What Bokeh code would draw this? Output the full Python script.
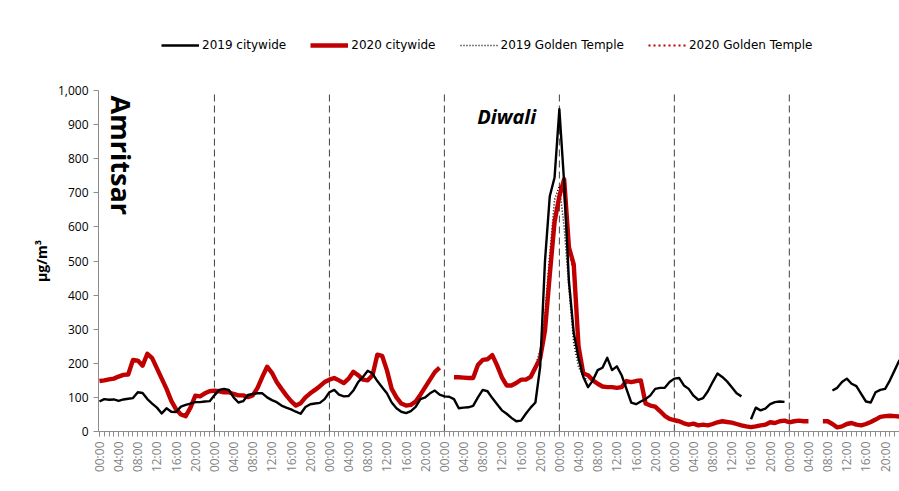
import math
from bokeh.plotting import figure
from bokeh.layouts import column
from bokeh.models import (ColumnDataSource, FixedTicker, NumeralTickFormatter, Legend,
                          LegendItem, Range1d, Label)
from bokeh.embed import file_html
from bokeh.resources import INLINE

NA = float("nan")

# ---------------- data (hourly, 7 days) ----------------
hours = list(range(168))
tick_labels = ["00:00", "04:00", "08:00", "12:00", "16:00", "20:00"]
day_bounds = [24, 48, 72, 96, 120, 144]
series_names = ["2019 citywide", "2020 citywide", "2019 Golden Temple", "2020 Golden Temple"]

citywide_2019 = [
    # day 1
    88, 95, 93, 94, 90, 94, 96, 98, 115, 113, 95, 82, 70, 53, 68, 58, 57, 73, 78, 82, 86, 86, 88, 89,
    # day 2
    106, 122, 125, 122, 100, 85, 89, 107, 110, 112, 112, 100, 92, 86, 76, 70, 65, 58, 52, 72, 80, 82, 84, 95,
    # day 3
    115, 122, 108, 103, 104, 120, 145, 160, 178, 170, 148, 130, 112, 85, 68, 58, 54, 60, 72, 95, 100, 112, 120, 108,
    # day 4
    103, 102, 95, 68, 70, 71, 75, 100, 122, 118, 98, 80, 62, 52, 40, 30, 32, 52, 70, 85, 190, 500, 690, 745,
    # day 5
    945, 730, 440, 290, 215, 160, 130, 150, 180, 187, 216, 180, 191, 165, 125, 85, 80, 88, 95, 106, 125, 128, 128, 145,
    # day 6
    155, 157, 135, 125, 105, 93, 98, 118, 145, 170, 160, 147, 130, 112, 103, NA, 36, 70, 62, 67, 80, 86, 88, 87,
    # day 7
    NA, NA, NA, NA, NA, NA, NA, NA, NA, 120, 128, 145, 155, 140, 133, 110, 88, 85, 115, 122, 125, 150, 180, 210,
]

citywide_2020 = [
    148, 150, 153, 155, 161, 166, 167, 210, 208, 193, 228, 215, 185, 155, 125, 90, 65, 50, 45, 70, 105, 103, 112, 118,
    120, 118, 115, 115, 110, 106, 106, 101, 106, 128, 160, 190, 172, 145, 125, 106, 89, 76, 83, 100, 112, 122, 133, 145,
    152, 157, 150, 142, 155, 175, 165, 152, 150, 165, 225, 222, 180, 125, 100, 82, 76, 78, 88, 108, 130, 152, 174, 187,
    NA, NA, 159, 159, 158, 157, 157, 195, 210, 212, 224, 194, 159, 135, 135, 142, 152, 152, 160, 188, 215, 296, 460, 615,
    690, 740, 540, 490, 250, 170, 165, 150, 140, 132, 130, 130, 128, 130, 148, 145, 148, 150, 82, 76, 73, 60, 46, 37,
    33, 30, 24, 20, 23, 18, 20, 18, 22, 27, 30, 28, 26, 22, 18, 15, 13, 15, 18, 20, 27, 25, 30, 32,
    27, 30, 32, 30, 30, NA, NA, 30, 30, 22, 12, 15, 22, 25, 20, 18, 22, 28, 35, 43, 45, 46, 45, 44,
]

gt_hours = [90, 91, 92, 93, 94, 95, 96, 97, 98, 99, 100, 101, 102]
golden_temple_2019 = [160, 190, 240, 340, 520, 680, 720, 600, 420, 260, 190, 160, 150]
golden_temple_2020 = [160, 188, 212, 290, 450, 600, 680, 730, 530, 470, 250, 168, 165]

FONT = "Open Sans"
LEG_FONT = "DejaVu Sans"
styles = [
    dict(line_color="black", line_width=2.4),
    dict(line_color="#c00000", line_width=4.4),
    dict(line_color="black", line_width=1.6, line_dash="1 2"),
    dict(line_color="#c00000", line_width=2.2, line_dash="2 3"),
]

# ---------------- legend strip ----------------
pl = figure(width=899, height=82, output_backend="svg", toolbar_location=None,
            x_range=Range1d(0, 1), y_range=Range1d(0, 1), min_border=0)
pl.axis.visible = False
pl.grid.visible = False
pl.outline_line_color = None
# legend samples: drawn outside the visible range, only their legend glyphs show
leg_renderers = [pl.line(x=[-5, -4], y=[-5, -5], **st) for st in styles]
legend = Legend(items=[LegendItem(label=n, renderers=[r]) for n, r in zip(series_names, leg_renderers)],
                orientation="horizontal", location=(63, 27))
legend.label_text_font = LEG_FONT
legend.label_text_font_size = "12px"
legend.label_text_color = "black"
legend.glyph_width = 38
legend.label_standoff = 3
legend.spacing = 24
legend.border_line_color = None
legend.background_fill_alpha = 0
legend.padding = 4
legend.margin = 0
pl.add_layout(legend, "center")

# ---------------- main chart ----------------
p = figure(frame_width=801, frame_height=341, output_backend="svg", toolbar_location=None,
           x_range=Range1d(-0.2, 167), y_range=Range1d(0, 1000),
           min_border_left=98, min_border_right=0, min_border_top=8, min_border_bottom=60)
p.outline_line_color = None
p.xgrid.grid_line_color = None
p.ygrid.grid_line_color = None

# day separators
p.segment(x0=day_bounds, x1=day_bounds, y0=[0] * 6, y1=[1000] * 6,
          line_color="#404040", line_width=1, line_dash="7 4")

src = ColumnDataSource(dict(h=hours, c19=citywide_2019, c20=citywide_2020))
gsrc = ColumnDataSource(dict(h=gt_hours, g19=golden_temple_2019, g20=golden_temple_2020))

p.line("h", "g19", source=gsrc, **styles[2])
p.line("h", "g20", source=gsrc, **styles[3])
p.line("h", "c20", source=src, line_join="round", **styles[1])
p.line("h", "c19", source=src, line_join="round", **styles[0])

# axes
p.yaxis.ticker = FixedTicker(ticks=list(range(0, 1001, 100)))
p.yaxis.formatter = NumeralTickFormatter(format="0,0")
p.yaxis.axis_label = "μg/m³"
p.yaxis.axis_label_text_font = FONT
p.yaxis.axis_label_text_font_style = "bold"
p.yaxis.axis_label_text_font_size = "14px"
p.yaxis.axis_label_text_color = "black"
p.yaxis.axis_label_standoff = 4
p.yaxis.major_label_text_font = FONT
p.yaxis.major_label_text_font_size = "12px"
p.yaxis.major_label_text_color = "black"
p.yaxis.axis_line_color = "#8c8c8c"
p.yaxis.major_tick_line_color = "#8c8c8c"
p.yaxis.major_tick_out = 5
p.yaxis.major_tick_in = 0
p.yaxis.minor_tick_line_color = None

major = list(range(0, 168, 4))
p.xaxis.ticker = FixedTicker(ticks=major, minor_ticks=hours)
p.xaxis.major_label_overrides = {h: tick_labels[(h % 24) // 4] for h in major}
p.xaxis.major_label_orientation = math.pi / 2
p.xaxis.major_label_text_font = FONT
p.xaxis.major_label_text_font_size = "12px"
p.xaxis.major_label_text_color = "#7f7f7f"
p.xaxis.axis_line_color = "#8c8c8c"
p.xaxis.major_tick_line_color = "#8c8c8c"
p.xaxis.minor_tick_line_color = "#8c8c8c"
p.xaxis.major_tick_out = 5
p.xaxis.major_tick_in = 0
p.xaxis.minor_tick_out = 5
p.xaxis.minor_tick_in = 0

# annotations
p.add_layout(Label(x=4.6, y=985, text="Amritsar", angle=-math.pi / 2,
                   text_font=FONT, text_font_style="bold", text_font_size="27px",
                   text_align="left", text_baseline="middle", text_color="black"))
p.add_layout(Label(x=85, y=924, text="Diwali",
                   text_font=FONT, text_font_style="bold italic", text_font_size="20px",
                   text_align="center", text_baseline="middle", text_color="black"))

layout = column(pl, p, spacing=0)
open("out.html", "w").write(file_html(layout, INLINE))
